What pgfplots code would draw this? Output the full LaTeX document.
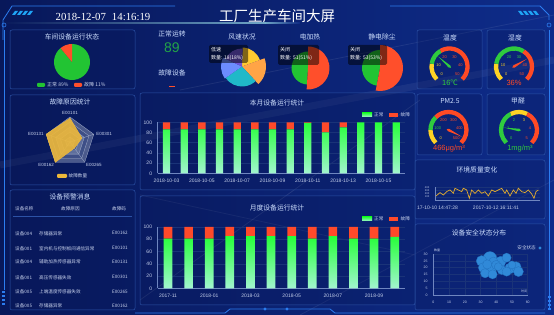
\documentclass[border=0pt]{standalone}
\usepackage{pgfplots}
\pgfplotsset{compat=1.18}
\usepgfplotslibrary{polar}
\usepackage{fontspec}
\setmainfont{Liberation Sans}
\newfontfamily\cjk{Noto Sans CJK SC}
\newfontfamily\serif{Liberation Serif}
\newcommand\fs[1]{\fontsize{#1}{#1}\selectfont}

\definecolor{bgA}{HTML}{08185A}
\definecolor{bgB}{HTML}{0E2C8A}
\definecolor{panel}{HTML}{2C52A6}
\definecolor{ttl}{HTML}{CFE0FF}
\definecolor{tick}{HTML}{C4CFEA}
\definecolor{axisc}{HTML}{6F86C0}
\definecolor{gridc}{HTML}{1A3378}
\definecolor{pieG}{HTML}{22C433}
\definecolor{pieR}{HTML}{FF4F2B}
\definecolor{barG}{HTML}{27FF3A}
\definecolor{barL}{HTML}{A2F5CF}
\definecolor{barR}{HTML}{FF4A2A}
\definecolor{gY}{HTML}{FFD325}
\definecolor{gG}{HTML}{2FCB3E}
\definecolor{gR}{HTML}{FF4A25}
\definecolor{radarY}{HTML}{EDB83A}
\definecolor{ringA}{HTML}{7684AA}
\definecolor{ringB}{HTML}{3B4D86}
\definecolor{ringL}{HTML}{A5B0CC}
\definecolor{bub}{HTML}{3089D8}
\definecolor{bubE}{HTML}{2170BE}
\definecolor{lineY}{HTML}{E4AC2E}
\definecolor{deco}{HTML}{2C7DF0}
\definecolor{wY}{HTML}{FFCA30}
\definecolor{wO}{HTML}{FFA446}
\definecolor{wC}{HTML}{20B9C8}
\definecolor{wB}{HTML}{6C8CFF}
\definecolor{wP}{HTML}{6F55D8}
\definecolor{okG}{HTML}{23A447}
\definecolor{lbl}{HTML}{C8D2EC}

\pgfplotsset{dash/.style={
  scale only axis, anchor=south west, at={(0pt,0pt)}, clip=false,
  axis lines=left, axis line style={-, axisc, line width=0.5pt},
  tick style={draw=none},
  ticklabel style={font=\fs{5}, text=tick},
  /pgf/number format/assume math mode=true,
  ymajorgrids, major grid style={gridc, line width=0.5pt},
}, bubs/.style={only marks, mark=*, mark size=#1, mark options={draw=bubE, fill=bub, line width=0.3pt}}}

\newcommand\panel[4]{\draw[panel, line width=0.5pt, rounded corners=2pt, fill=bgA, fill opacity=0.3] (#1,{315-#2}) rectangle (#3,{315-#4});}
\newcommand\ttitle[3]{\node[text=ttl, font=\cjk\fs{6.8}] at (#1,{315-#2}) {#3};}
\newcommand\slice[6]{\fill[#6] (#1,#2) -- ++(#3:#5) arc[start angle=#3, end angle=#4, radius=#5] -- cycle;}
\newcommand\garc[6]{\draw[#5, line width=4.3pt] ({#1+#6*cos(225-270*#3)},{#2+#6*sin(225-270*#3)}) arc[start angle={225-270*#3}, end angle={225-270*#4}, radius=#6];}
\newcommand\glab[5]{\node[font=\fs{4}, text=#5, inner sep=0pt] at ({#1+11*cos(225-270*#3)},{#2+11*sin(225-270*#3)}) {#4};}
\newcommand\gptr[4]{\fill[#4] ({#1+15*cos(225-270*#3)},{#2+15*sin(225-270*#3)}) -- ({#1+1.3*cos(225-270*#3+90)},{#2+1.3*sin(225-270*#3+90)}) -- ({#1-2*cos(225-270*#3)},{#2-2*sin(225-270*#3)}) -- ({#1+1.3*cos(225-270*#3-90)},{#2+1.3*sin(225-270*#3-90)}) -- cycle;}
\newcommand\tip[5]{\fill[black, opacity=0.5, rounded corners=1.5pt] (#1,{315-#4}) rectangle (#3,{315-#2});
  \node[anchor=west, text=white, font=\cjk\fs{5}, inner sep=0pt] at ({#1+2},{315-#2-5}) {关闭};
  \node[anchor=west, text=white, font=\cjk\fs{5}, inner sep=0pt] at ({#1+2},{315-#2-13}) {#5};}

\begin{document}
\begin{tikzpicture}[x=1pt,y=1pt]
% background
\shade[left color=bgA, right color=bgB] (0,0) rectangle (554,315);
\draw[white, opacity=0.06, line width=7pt] (0,150) -- (554,255);
\draw[white, opacity=0.10, line width=0.8pt] (140,15) -- (420,215);
\draw[white, opacity=0.08, line width=0.8pt] (300,0) -- (554,135);
\draw[white, opacity=0.08, line width=0.8pt] (140,120) -- (415,60);
\draw[white, opacity=0.08, line width=0.8pt] (180,225) -- (554,300);
% title glow line
\shade[left color=bgA, right color=white!70!cyan, opacity=0.6] (0,291.5) rectangle (265,292.5);
\shade[left color=white!70!cyan, right color=bgB, opacity=0.6] (265,291.5) rectangle (300,292.5);

% frame decorations
\draw[deco, line width=0.8pt] (3,275) -- (3,295) -- (12,309) -- (175,309);
\draw[deco, line width=0.8pt] (390,309) -- (540,309) -- (549,300) -- (549,295);
\draw[deco, line width=0.6pt] (4,290) circle (2);
\draw[deco, line width=0.6pt] (549,290) circle (2);
\draw[deco, line width=0.6pt] (4,285) -- (4,25);
\draw[deco, line width=0.6pt] (549,285) -- (549,5);
\foreach \i in {0,1,2,3} {
  \fill[deco!70!cyan] ({12+5*\i},300) -- ({15+5*\i},304) -- ({18+5*\i},304) -- ({15+5*\i},300) -- cycle;
  \fill[deco!70!cyan] ({518+5*\i},304) -- ({521+5*\i},300) -- ({524+5*\i},300) -- ({521+5*\i},304) -- cycle;
  \fill[deco] (2,{10+4*\i}) rectangle (5,{12+4*\i});
  \fill[deco] (548,{5+4*\i}) rectangle (551,{7+4*\i});
}
\draw[deco, line width=0.8pt] (135,2) -- (225,2) -- (230,6) -- (330,6) -- (335,2) -- (545,2);
\fill[deco] (265,6) circle (1.6);
\fill[deco] (287,6) circle (1.6);

% header
\node[text=white, font=\cjk\fs{14.5}] at (277,299) {工厂生产车间大屏};
\node[text=white, font=\serif\fs{10.8}] at (103,298) {2018-12-07\hspace{6pt}14:16:19};

% panels
\panel{10}{30}{135}{89}
\panel{10}{95}{135}{185}
\panel{10}{190}{135}{310}
\panel{140}{93}{415}{190}
\panel{140}{196}{415}{305}
\panel{417}{30}{482}{89}
\panel{487}{30}{545}{89}
\panel{417}{94}{482}{155}
\panel{487}{94}{545}{155}
\panel{415}{160}{545}{219}
\panel{415}{224}{545}{310}

% ---- 车间设备运行状态 ----
\ttitle{72}{37}{车间设备运行状态}
\slice{72}{253}{129.6}{450}{18}{pieG}
\slice{72}{253}{90}{129.6}{18}{pieR}
\fill[pieG, rounded corners=1pt] (37,228) rectangle (45,232);
\node[anchor=west, text=lbl, font=\cjk\fs{5}, inner sep=0pt] at (47,230) {正常 89\%};
\fill[pieR, rounded corners=1pt] (74,228) rectangle (82,232);
\node[anchor=west, text=lbl, font=\cjk\fs{5}, inner sep=0pt] at (84,230) {故障 11\%};

% ---- center top numbers ----
\node[text=ttl, font=\cjk\fs{6.8}] at (172,281) {正常运转};
\node[text=okG, font=\fs{14}] at (172,267) {89};
\node[text=ttl, font=\cjk\fs{6.8}] at (172,242) {故障设备};
\draw[pieR, line width=0.8pt] (169,228.3) -- (175,228.3);

% ---- 风速状况 ----
\ttitle{242}{37}{风速状况}
\slice{242}{248.5}{20}{88}{19}{wY}
\slice{242}{248.5}{-47}{20}{24}{wO}
\slice{242}{248.5}{-145}{-47}{20}{wC}
\slice{242}{248.5}{155}{215}{21}{wB}
\slice{242}{248.5}{88}{155}{18}{wP}
\fill[black, opacity=0.5, rounded corners=1.5pt] (209,252) rectangle (248,270);
\node[anchor=west, text=white, font=\cjk\fs{5}, inner sep=0pt] at (211,265) {低速};
\node[anchor=west, text=white, font=\cjk\fs{5}, inner sep=0pt] at (211,256.7) {数量: 18(18\%)};

% ---- 电加热 ----
\ttitle{310}{37}{电加热}
\slice{308}{247}{90}{266.4}{16.5}{pieG}
\slice{308}{247}{-93.6}{90}{21.5}{pieR}
\tip{278}{45}{319}{65}{数量: 51(51\%)}

% ---- 静电除尘 ----
\ttitle{382}{37}{静电除尘}
\slice{380}{247}{90}{259.2}{18}{pieG}
\slice{380}{247}{-100.8}{90}{23}{pieR}
\tip{348}{45}{387}{65}{数量: 53(53\%)}

% ---- gauges ----
\ttitle{450}{38}{温度}
\garc{449.5}{248.5}{0}{0.2}{gY}{18}
\garc{449.5}{248.5}{0.2}{0.39}{gG}{18}
\garc{449.5}{248.5}{0.39}{1}{gR}{18}
\glab{449.5}{248.5}{0}{0}{gY}
\glab{449.5}{248.5}{0.2}{10}{gY}
\glab{449.5}{248.5}{0.4}{20}{gR}
\glab{449.5}{248.5}{0.6}{30}{gR}
\glab{449.5}{248.5}{0.8}{40}{gR}
\glab{449.5}{248.5}{1}{50}{gR}
\gptr{449.5}{248.5}{0.32}{gG}
\node[text=gG, font=\fs{7.5}] at (450,232.3) {16{\cjk ℃}};

\ttitle{515}{38}{湿度}
\garc{514}{248.5}{0}{0.2}{gY}{18}
\garc{514}{248.5}{0.2}{0.62}{gG}{18}
\garc{514}{248.5}{0.62}{1}{gR}{18}
\glab{514}{248.5}{0}{0}{gY}
\glab{514}{248.5}{0.2}{10}{gY}
\glab{514}{248.5}{0.4}{20}{gG}
\glab{514}{248.5}{0.6}{30}{gG}
\glab{514}{248.5}{0.8}{40}{gR}
\glab{514}{248.5}{1}{50}{gR}
\gptr{514}{248.5}{0.72}{gR}
\node[text=gR, font=\fs{7.5}] at (514,232.3) {36\%};

\ttitle{450}{101}{PM2.5}
\garc{448.5}{185}{0}{0.167}{gY}{18}
\garc{448.5}{185}{0.167}{0.333}{gG}{18}
\garc{448.5}{185}{0.333}{1}{gR}{18}
\glab{448.5}{185}{0}{0}{gY}
\glab{448.5}{185}{0.2}{100}{gG}
\glab{448.5}{185}{0.4}{200}{gR}
\glab{448.5}{185}{0.6}{300}{gR}
\glab{448.5}{185}{0.8}{400}{gR}
\glab{448.5}{185}{1}{500}{gR}
\gptr{448.5}{185}{0.932}{gR}
\node[text=gR, font=\fs{7.5}] at (449,166) {466μg/m³};

\ttitle{518}{101}{甲醛}
\garc{519}{185}{0}{0.4}{gG}{18}
\garc{519}{185}{0.4}{0.6}{gY}{18}
\garc{519}{185}{0.6}{1}{gR}{18}
\glab{519}{185}{0}{0}{gG}
\glab{519}{185}{0.2}{1}{gG}
\glab{519}{185}{0.4}{2}{gG}
\glab{519}{185}{0.6}{3}{gY}
\glab{519}{185}{0.8}{4}{gR}
\glab{519}{185}{1}{5}{gR}
\gptr{519}{185}{0.2}{gG}
\node[text=gG, font=\fs{7.5}] at (520,166) {1mg/m³};

% ---- 故障原因统计 (radar) ----
\ttitle{70}{102}{故障原因统计}
\begin{scope}[shift={(70pt,173pt)}]
\begin{polaraxis}[at={(0pt,0pt)}, anchor=center, scale only axis, width=50pt, height=50pt,
  ymin=0, ymax=100, hide axis, clip=false]
\addplot[draw=ringL, line width=0.3pt, fill=ringA, fill opacity=0.6] coordinates {(90,100) (18,100) (-54,100) (-126,100) (162,100) (90,100)};
\addplot[draw=ringL, line width=0.3pt, fill=ringB, fill opacity=0.8] coordinates {(90,80) (18,80) (-54,80) (-126,80) (162,80) (90,80)};
\addplot[draw=ringL, line width=0.3pt, fill=ringA, fill opacity=0.6] coordinates {(90,60) (18,60) (-54,60) (-126,60) (162,60) (90,60)};
\addplot[draw=ringL, line width=0.3pt, fill=ringB, fill opacity=0.8] coordinates {(90,40) (18,40) (-54,40) (-126,40) (162,40) (90,40)};
\addplot[draw=ringL, line width=0.3pt, fill=ringA, fill opacity=0.6] coordinates {(90,20) (18,20) (-54,20) (-126,20) (162,20) (90,20)};
\addplot[draw=ringL, line width=0.3pt] coordinates {(90,100) (0,0) (18,100)};
\addplot[draw=ringL, line width=0.3pt] coordinates {(-54,100) (0,0) (-126,100)};
\addplot[draw=ringL, line width=0.3pt] coordinates {(0,0) (162,100)};
\addplot[draw=radarY, line width=0.5pt, fill=radarY, fill opacity=0.9] coordinates {(90,95) (18,50) (-54,30) (-126,100) (162,100) (90,95)};
\node[anchor=south, font=\fs{4.5}, text=lbl, inner sep=1pt] at (axis cs:90,104) {E00101};
\node[anchor=west, font=\fs{4.5}, text=lbl, inner sep=1pt] at (axis cs:18,106) {E00301};
\node[anchor=north west, font=\fs{4.5}, text=lbl, inner sep=1pt] at (axis cs:-54,102) {E00265};
\node[anchor=north east, font=\fs{4.5}, text=lbl, inner sep=1pt] at (axis cs:-126,102) {E00162};
\node[anchor=east, font=\fs{4.5}, text=lbl, inner sep=1pt] at (axis cs:162,106) {E00131};
\end{polaraxis}
\end{scope}
\fill[radarY, rounded corners=1pt] (57,137) rectangle (67,141);
\node[anchor=west, text=lbl, font=\cjk\fs{4.6}, inner sep=0pt] at (68.5,139) {故障数量};

% ---- 设备预警消息 ----
\ttitle{70}{197}{设备预警消息}
\begin{scope}[every node/.style={text=lbl, font=\cjk\fs{4.6}, inner sep=0pt, anchor=west}]
\node at (15,106) {设备名称};
\node at (61,106) {故障原因};
\node at (112,106) {故障码};
\draw[panel, line width=0.3pt] (13,98.5) -- (132,98.5);
\node at (15,81.7) {设备004}; \node at (39,81.7) {存储器异常}; \node at (112,81.7) {E00162};
\node at (15,66.7) {设备001}; \node at (39,66.7) {室内机与控制板间通信异常}; \node at (112,66.7) {E00101};
\node at (15,53.3) {设备004}; \node at (39,53.3) {辅助加热传感器异常}; \node at (112,53.3) {E00131};
\node at (15,37.7) {设备001}; \node at (39,37.7) {高压传感器失效}; \node at (112,37.7) {E00301};
\node at (15,23.3) {设备005}; \node at (39,23.3) {上端温度传感器失效}; \node at (112,23.3) {E00265};
\node at (15,9) {设备005}; \node at (39,9) {存储器异常}; \node at (112,9) {E00162};
\end{scope}

% ---- 本月设备运行统计 ----
\ttitle{277}{103}{本月设备运行统计}
\begin{scope}[shift={(157.7pt,141.7pt)}]
\begin{axis}[dash, width=247.3pt, height=51pt,
  xmin=-0.5, xmax=13.5, ymin=0, ymax=100, ybar stacked, bar width=7.3pt,
  xtick={0,2,...,12},
  xticklabels={2018-10-03,2018-10-05,2018-10-07,2018-10-09,2018-10-11,2018-10-13,2018-10-15},
  ytick={0,20,...,100}]
\addplot[draw=none, top color=barG, bottom color=barL] coordinates {(0,86) (1,86) (2,86) (3,86) (4,86) (5,86) (6,86) (7,86) (8,99) (9,80) (10,90) (11,100) (12,100) (13,100)};
\addplot[draw=none, fill=barR] coordinates {(0,14) (1,14) (2,14) (3,14) (4,14) (5,14) (6,14) (7,14) (8,1) (9,20) (10,10) (11,0) (12,0) (13,0)};
\end{axis}
\end{scope}
\shade[top color=barG, bottom color=barL] (362,198) rectangle (372,202);
\node[anchor=west, text=lbl, font=\cjk\fs{4.6}, inner sep=0pt] at (374,200) {正常};
\fill[barR] (389,198) rectangle (398,202);
\node[anchor=west, text=lbl, font=\cjk\fs{4.6}, inner sep=0pt] at (400.5,200) {故障};

% ---- 月度设备运行统计 ----
\ttitle{277}{208}{月度设备运行统计}
\begin{scope}[shift={(157.7pt,26.7pt)}]
\begin{axis}[dash, width=247.3pt, height=61.3pt,
  xmin=-0.5, xmax=11.5, ymin=0, ymax=100, ybar stacked, bar width=8.7pt,
  xtick={0,2,...,10},
  xticklabels={2017-11,2018-01,2018-03,2018-05,2018-07,2018-09},
  ytick={0,20,...,100}]
\addplot[draw=none, top color=barG, bottom color=barL] coordinates {(0,81) (1,81) (2,81) (3,85) (4,85) (5,85) (6,85) (7,81) (8,85) (9,81) (10,81) (11,84)};
\addplot[draw=none, fill=barR] coordinates {(0,19) (1,19) (2,19) (3,15) (4,15) (5,15) (6,15) (7,19) (8,15) (9,19) (10,19) (11,16)};
\end{axis}
\end{scope}
\shade[top color=barG, bottom color=barL] (362,94) rectangle (372,98);
\node[anchor=west, text=lbl, font=\cjk\fs{4.6}, inner sep=0pt] at (374,96) {正常};
\fill[barR] (389,94) rectangle (398,98);
\node[anchor=west, text=lbl, font=\cjk\fs{4.6}, inner sep=0pt] at (400.5,96) {故障};

% ---- 环境质量变化 ----
\ttitle{477}{170}{环境质量变化}
\begin{scope}[shift={(435pt,115pt)}]
\begin{axis}[dash, width=105pt, height=12.7pt,
  xmin=75, xmax=390, ymin=0, ymax=400,
  ytick={100,200,300,400}, yticklabel style={font=\fs{2.6}},
  xtick={82.5,258}, xticklabels={17-10-10 14:47:28,2017-10-12 16:11:41},
  xticklabel style={font=\fs{5}}]
\addplot[lineY, line width=0.7pt] coordinates {
(78,126) (90,232) (100,158) (110,263) (120,316) (130,211) (135,368) (145,316) (155,263) (160,368)
(170,316) (178,53) (185,316) (195,211) (205,316) (215,211) (225,263) (235,126) (245,316) (255,263)
(265,316) (275,368) (285,211) (290,316) (300,126) (310,316) (318,211) (325,368) (335,263) (345,232)
(355,316) (365,189) (372,53) (378,263) (385,316)};
\end{axis}
\end{scope}

% ---- 设备安全状态分布 ----
\ttitle{479}{233}{设备安全状态分布}
\node[anchor=east, text=lbl, font=\cjk\fs{4.6}, inner sep=0pt] at (536,67) {安全状态};
\fill[bub] (540,67) circle (1.6);
\begin{scope}[shift={(433.3pt,20pt)}]
\begin{axis}[dash, width=94.4pt, height=41pt,
  xmin=0, xmax=60, ymin=0, ymax=30, xtick={0,10,...,60}, ytick={0,5,...,30},
  ticklabel style={font=\fs{3.5}, text=tick}, xmajorgrids]
\addplot[bubs=6.8pt] coordinates {(36.0,26.8)};
\addplot[bubs=5.8pt] coordinates {(37.1,20.7)};
\addplot[bubs=5.4pt] coordinates {(30.7,24.9) (42.8,24.4) (48.8,19.5)};
\addplot[bubs=5.0pt] coordinates {(31.8,20.0) (52.6,20.7) (54.1,17.1)};
\addplot[bubs=4.6pt] coordinates {(38.2,24.4) (46.6,27.3) (32.9,15.9) (37.7,15.1) (43.5,18.3) (46.6,17.1) (34.3,22.4) (40.0,22.0)};
\addplot[bubs=4.0pt] coordinates {(50.0,22.0) (41.3,20.7)};
\node[anchor=south west, font=\cjk\fs{3}, text=lbl, inner sep=0.5pt] at (axis cs:0,31) {数量};
\node[anchor=south east, font=\cjk\fs{3}, text=lbl, inner sep=0.5pt] at (axis cs:60,1) {时间};
\end{axis}
\end{scope}

\pgfresetboundingbox
\path[use as bounding box] (0,0) rectangle (554,315);
\end{tikzpicture}
\end{document}
